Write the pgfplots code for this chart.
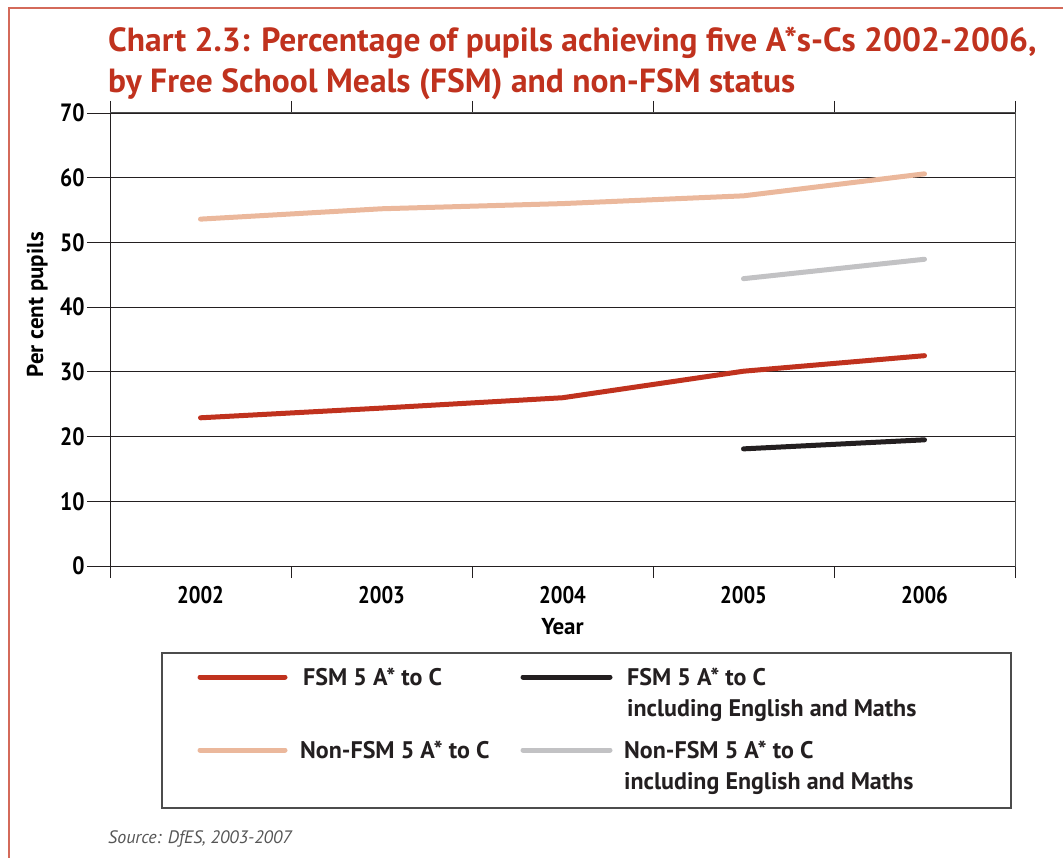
\documentclass[border=0pt]{standalone}
\usepackage{pgfplots}
\pgfplotsset{compat=1.18}
\usepackage{fontspec}
\setmainfont{PT Sans}
\newfontfamily\condfont[FakeStretch=0.86]{PT Sans}
\definecolor{fsmred}{HTML}{C0321E}
\definecolor{nonfsm}{HTML}{EBB89C}
\definecolor{greyline}{HTML}{C2C2C4}
\definecolor{blackline}{HTML}{231F20}
\definecolor{framecol}{HTML}{D46A5A}
\definecolor{srcgrey}{HTML}{555555}
\begin{document}
\begin{tikzpicture}
\useasboundingbox (0pt,0pt) rectangle (1063pt,-858pt);
\draw[framecol, line width=1.6pt] (9pt,-858pt) -- (9pt,-8pt) -- (1063pt,-8pt);
\node[anchor=base west, inner sep=0, text=fsmred] at (108pt,-52pt) {\fontsize{33.5}{40}\selectfont\bfseries Chart 2.3: Percentage of pupils achieving five A*s-Cs 2002-2006,};
\node[anchor=base west, inner sep=0, text=fsmred] at (108pt,-93pt) {\fontsize{33.5}{40}\selectfont\bfseries by Free School Meals (FSM) and non-FSM status};
\begin{axis}[
  at={(110pt,-566pt)}, anchor=south west,
  width=905pt, height=453pt, scale only axis,
  xmin=-0.5, xmax=4.5, ymin=0, ymax=70,
  clip=false,
  /pgf/number format/assume math mode=true,
  ytick={0,10,20,30,40,50,60,70},
  ytick style={draw=none},
  yticklabel style={font=\condfont\fontsize{25}{28}\selectfont\bfseries, anchor=east, xshift=-10pt},
  ymajorgrids, grid style={blackline, line width=0.9pt},
  xtick={-0.5,0.5,1.5,2.5,3.5,4.5},
  xticklabels={,,,,,},
  tick align=outside, major tick length=12pt,
  xtick style={blackline, line width=0.9pt},
  extra x ticks={0,1,2,3,4},
  extra x tick labels={2002,2003,2004,2005,2006},
  extra x tick style={major tick length=0pt, grid=none, xticklabel style={font=\condfont\fontsize{24}{28}\selectfont\bfseries, anchor=north, yshift=-17pt}},
  axis line style={gray!60!black, line width=1pt},
  xlabel={Year}, xlabel style={font=\fontsize{23}{28}\selectfont\bfseries, anchor=base, at={(axis description cs:0.5,0)}, yshift=-68pt},
  ylabel={Per cent pupils}, ylabel style={font=\fontsize{23}{28}\selectfont\bfseries, anchor=base, at={(axis description cs:-0.074,0.577)}},
  every axis plot/.append style={line width=5pt, line cap=round, line join=round},
]
\draw[blackline, line width=1pt] (axis cs:-0.5,0) -- (axis cs:4.5,0);
\draw[blackline, line width=1pt] (axis cs:-0.5,0) -- (axis cs:-0.5,70);
\addplot[nonfsm] coordinates {(0,53.6) (1,55.2) (2,56.0) (3,57.2) (4,60.6)};
\addplot[greyline] coordinates {(3,44.4) (4,47.4)};
\addplot[fsmred] coordinates {(0,22.9) (1,24.4) (2,26.0) (3,30.1) (4,32.5)};
\addplot[blackline] coordinates {(3,18.1) (4,19.5)};
\end{axis}
% outer y tick marks
\foreach \k in {0,...,7}{
  \draw[blackline, line width=0.9pt] (87pt,{(-566+64.714*\k)*1pt}) -- (110pt,{(-566+64.714*\k)*1pt});
}
% legend
\draw[gray!60!black, line width=1.3pt] (162pt,-653pt) rectangle (1011pt,-808pt);
\draw[fsmred, line width=5pt, line cap=round] (200pt,-677pt) -- (285pt,-677pt);
\draw[nonfsm, line width=5pt, line cap=round] (200pt,-750pt) -- (285pt,-750pt);
\draw[blackline, line width=5pt, line cap=round] (523pt,-677pt) -- (610pt,-677pt);
\draw[greyline, line width=5pt, line cap=round] (523pt,-750pt) -- (610pt,-750pt);
\begin{scope}[every node/.style={anchor=base west, inner sep=0, font=\fontsize{24}{28}\selectfont\bfseries, text=blackline}]
\node at (303pt,-685pt) {FSM 5 A* to C};
\node at (627pt,-685pt) {FSM 5 A* to C};
\node at (627pt,-716pt) {including English and Maths};
\node at (300pt,-758pt) {Non-FSM 5 A* to C};
\node at (624pt,-758pt) {Non-FSM 5 A* to C};
\node at (624pt,-789pt) {including English and Maths};
\end{scope}
\node[anchor=base west, inner sep=0, text=srcgrey, font=\fontsize{18}{20}\selectfont\itshape] at (108pt,-843pt) {Source: DfES, 2003-2007};
\end{tikzpicture}
\end{document}
